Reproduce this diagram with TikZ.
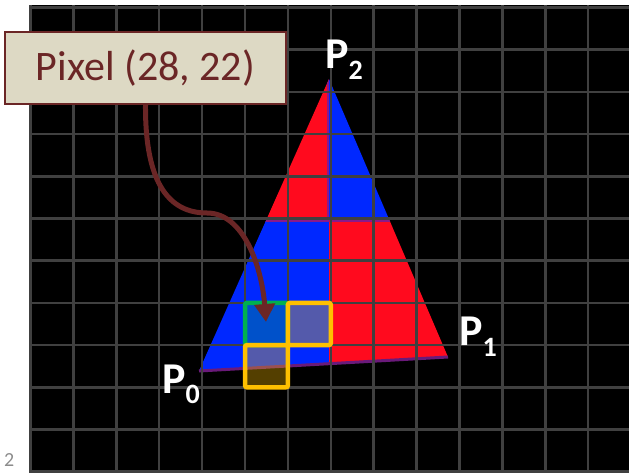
\documentclass[tikz,border=0pt]{standalone}
\usepackage{fontspec}
\setmainfont{Carlito}
\usepackage{xcolor}
\usetikzlibrary{arrows.meta}
\definecolor{gridgray}{HTML}{404040}
\definecolor{trired}{HTML}{FF0A1E}
\definecolor{triblue}{HTML}{0028FF}
\definecolor{seampurple}{HTML}{8A1A8A}
\definecolor{edgepurple}{HTML}{6A1A7A}
\definecolor{calloutred}{HTML}{6B2626}
\definecolor{calloutbg}{HTML}{DDD9C4}
\definecolor{hitgreen}{HTML}{00B050}
\definecolor{neargold}{HTML}{FFC000}
\definecolor{numgray}{HTML}{8C8C8C}
\tikzset{
    gridline/.style={draw=gridgray, line width=2.5pt},
    seam/.style={draw=seampurple, line width=2.5pt},
    callout/.style={draw=calloutred, line width=2pt, fill=calloutbg, text=calloutred, minimum width=281pt, minimum height=72pt, inner sep=0pt, font=\fontsize{42}{50}\selectfont},
    hitbox/.style={draw=hitgreen, line width=4.5pt, rounded corners=2pt, fill=hitgreen, fill opacity=0.3},
    nearbox/.style={draw=neargold, line width=4.5pt, rounded corners=2pt, fill=neargold, fill opacity=0.33},
    vlabel/.style={text=white, inner sep=0pt, anchor=base west, font=\bfseries\fontsize{44}{44}\selectfont},
    slidenum/.style={text=numgray, inner sep=0pt, anchor=base west, font=\fontsize{20}{20}\selectfont},
    myarrow/.style={-{Triangle[length=18pt, width=20pt]}, draw=calloutred, line width=5pt}
}
\newcommand{\vertexname}[2]{P\raisebox{-#2}{\fontsize{28}{28}\selectfont #1}}

\begin{document}
\begin{tikzpicture}[x=1pt, y=-1pt]
    \useasboundingbox (0,0) rectangle (629,473);
    \fill[black] (29,5) rectangle (629,473);
    \coordinate (v0) at (199,371);
    \coordinate (v1) at (448,357);
    \coordinate (v2) at (329,79);
    \begin{scope}
        \clip (v0) -- (v1) -- (v2) -- cycle;
        \fill[trired] (150,60) rectangle (329,220);
        \fill[triblue] (329,60) rectangle (460,220);
        \fill[triblue] (150,220) rectangle (329,380);
        \fill[trired] (329,220) rectangle (460,380);
        \draw[seam] (328,60) -- (328,221);
        \draw[seam] (150,221) -- (460,221);
    \end{scope}
    \draw[draw=edgepurple, line width=3pt] (v0) -- (v1);
    \foreach \i in {0,...,13}
        \draw[gridline] ({30.5+42.9*\i},5) -- ({30.5+42.9*\i},473);
    \foreach \j in {0,...,11}
        \draw[gridline] (29,{7.5+42.2*\j}) -- (629,{7.5+42.2*\j});
    \draw[hitbox] (245,302.9) rectangle (287.9,345.1);
    \draw[nearbox] (287.9,302.9) rectangle (330.8,345.1);
    \draw[nearbox] (245,345.1) rectangle (287.9,387.3);
    \node (pixel) [callout] at (145.5,68) {Pixel (28, 22)};
    \coordinate (hit) at (266,322);
    \draw[myarrow] (pixel.south) .. controls (145,185) and (170,213) .. (207,213)
        .. controls (245,213) and (262,270) .. (hit);
    \node (p2) [vlabel] at (325,69) {\vertexname{2}{11pt}};
    \node (p1) [vlabel] at (459,345) {\vertexname{1}{11pt}};
    \node (p0) [vlabel] at (162,393) {\vertexname{0}{10pt}};
    \node (num) [slidenum] at (4,466) {2};
\end{tikzpicture}
\end{document}
